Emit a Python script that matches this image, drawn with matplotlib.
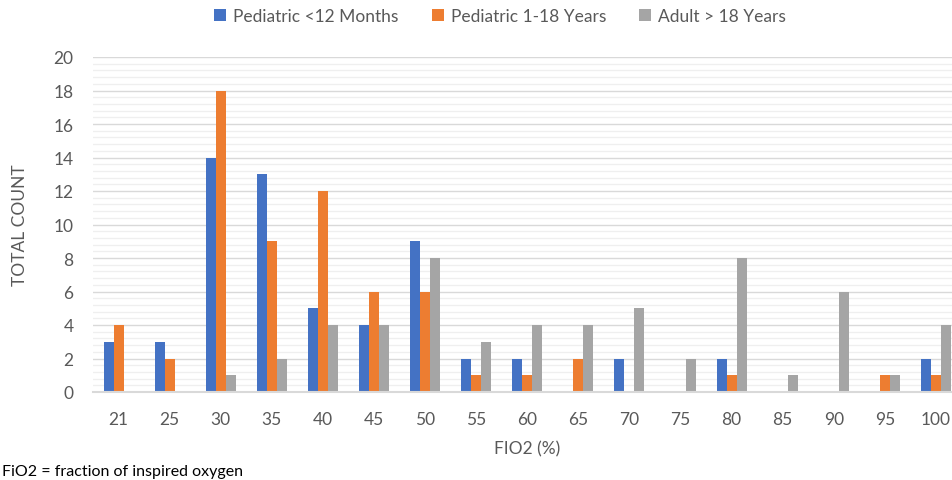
"""Grouped bar chart of FiO2 settings by patient age group."""

import matplotlib.pyplot as plt
import numpy as np
from matplotlib.ticker import MultipleLocator

FIO2_LABELS = ["21", "25", "30", "35", "40", "45", "50", "55", "60",
               "65", "70", "75", "80", "85", "90", "95", "100"]
PEDS_UNDER_12M = [3, 3, 14, 13, 5, 4, 9, 2, 2, 0, 2, 0, 2, 0, 0, 0, 2]
PEDS_1_18Y = [4, 2, 18, 9, 12, 6, 6, 1, 1, 2, 0, 0, 1, 0, 0, 1, 1]
ADULT_OVER_18Y = [0, 0, 1, 2, 4, 4, 8, 3, 4, 4, 5, 2, 8, 1, 6, 1, 4]

SERIES = [
    ("Pediatric <12 Months", PEDS_UNDER_12M, "#4472C4"),
    ("Pediatric 1-18 Years", PEDS_1_18Y, "#ED7D31"),
    ("Adult > 18 Years", ADULT_OVER_18Y, "#A5A5A5"),
]

TEXT_COLOR = "#595959"
plt.rcParams["font.family"] = ["Lato", "DejaVu Sans"]

W, H = 952, 481
fig = plt.figure(figsize=(W / 100, H / 100), dpi=100)
# plot area runs past the right edge, as in the source image
left, right, top, bottom = 93, 961.5, 58, 393
ax = fig.add_axes([left / W, 1 - bottom / H, (right - left) / W, (bottom - top) / H])

x = np.arange(len(FIO2_LABELS))
bar_w = 0.196
for i, (name, values, color) in enumerate(SERIES):
    ax.bar(x + (i - 1) * bar_w, values, width=bar_w, color=color, label=name, zorder=3)

ax.set_xlim(-0.5, len(FIO2_LABELS) - 0.5)
ax.set_ylim(0, 20)
ax.yaxis.set_major_locator(MultipleLocator(2))
ax.yaxis.set_minor_locator(MultipleLocator(0.4))
ax.grid(axis="y", which="major", color="#D9D9D9", linewidth=1.0, zorder=0)
ax.grid(axis="y", which="minor", color="#EFEFEF", linewidth=0.9, zorder=0)

ax.set_xticks(x)
ax.set_xticklabels(FIO2_LABELS)
ax.tick_params(axis="both", which="both", length=0, colors=TEXT_COLOR, labelsize=12.5)
ax.tick_params(axis="x", pad=14)
ax.tick_params(axis="y", pad=14)

for side in ("top", "right", "left"):
    ax.spines[side].set_visible(False)
ax.spines["bottom"].set_color("#D9D9D9")
ax.spines["bottom"].set_linewidth(1.5)
ax.spines["bottom"].set_zorder(4)

ax.set_xlabel("FIO2 (%)", color=TEXT_COLOR, fontsize=12.5, labelpad=9)
ax.set_ylabel("TOTAL COUNT", color=TEXT_COLOR, fontsize=12.5, labelpad=18)

fig.legend(
    loc="center", bbox_to_anchor=(500 / W, 1 - 17 / H), ncol=3, frameon=False,
    fontsize=12.5, handlelength=0.7, handleheight=0.7, handletextpad=0.4,
    columnspacing=1.9, labelcolor=TEXT_COLOR,
)

fig.text(2 / W, 1 - 472 / H, "FiO2 = fraction of inspired oxygen",
         fontsize=11.5, color="#000000", va="center", ha="left")

fig.savefig("out.png", dpi=100)
